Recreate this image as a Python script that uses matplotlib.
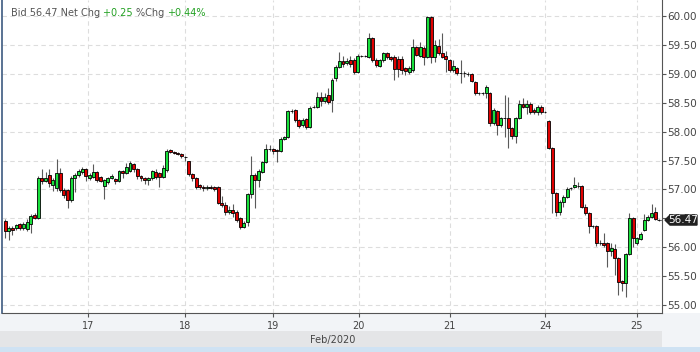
import matplotlib
matplotlib.use("Agg")
import matplotlib.pyplot as plt
from matplotlib.patches import Rectangle, Polygon
import numpy as np

# hourly candles, Feb 16 evening .. Feb 25
opens = [56.45, 56.28, 56.34, 56.33, 56.40, 56.33, 56.31, 56.40,
         56.56, 56.51, 57.20, 57.15, 57.25, 57.08, 57.02, 57.28, 56.99,
         56.99, 56.82, 57.20, 57.25, 57.30, 57.35, 57.20, 57.22, 57.30,
         57.21, 57.06, 57.13, 57.20, 57.18, 57.14, 57.32, 57.28, 57.32,
         57.44, 57.35, 57.23, 57.19, 57.16, 57.19, 57.30, 57.28, 57.21,
         57.34, 57.68, 57.65, 57.63, 57.61, 57.56, 57.49, 57.26, 57.20, 57.07,
         57.05, 57.02, 57.05, 57.04, 57.04, 56.77, 56.73, 56.61, 56.64,
         56.61, 56.50, 56.35, 56.43, 56.92, 57.25, 57.16, 57.30, 57.47, 57.70,
         57.70, 57.68, 57.66, 57.87, 57.91, 58.36, 58.37, 58.20, 58.11, 58.22,
         58.08, 58.43, 58.43, 58.60, 58.53, 58.63, 58.55, 58.93, 59.12, 59.22,
         59.19, 59.24, 59.24, 59.03, 59.31, 59.31, 59.29, 59.62, 59.24, 59.13,
         59.24, 59.36, 59.29, 59.29, 59.26, 59.26, 59.10, 59.03, 59.07, 59.46,
         59.31, 59.45, 59.29, 59.98, 59.29, 59.48, 59.36, 59.31, 59.24, 59.07,
         59.10, 59.01, 59.01, 59.00, 59.00, 58.86, 58.67, 58.67, 58.67, 58.67,
         58.15, 58.36, 58.11, 58.24, 58.24, 58.06, 57.92, 58.24, 58.48, 58.43,
         58.48, 58.37, 58.34, 58.43, 58.34, 58.18, 57.72, 56.94, 56.61, 56.78,
         56.87, 57.02, 57.04, 57.06, 57.06, 56.70, 56.59, 56.37, 56.37, 56.07,
         56.07, 56.07, 55.93, 55.97, 55.81, 55.42, 55.38, 55.88, 56.51, 56.07,
         56.14, 56.30, 56.47, 56.52, 56.61, 56.47]
closes = [56.28, 56.33, 56.29, 56.38, 56.33, 56.41, 56.43, 56.54,
          56.51, 57.20, 57.15, 57.20, 57.11, 57.16, 57.28, 56.99, 56.90,
          56.82, 57.20, 57.25, 57.32, 57.35, 57.23, 57.25, 57.30, 57.16,
          57.15, 57.16, 57.20, 57.24, 57.14, 57.32, 57.28, 57.39, 57.46,
          57.35, 57.23, 57.20, 57.16, 57.19, 57.31, 57.21, 57.21, 57.37,
          57.66, 57.65, 57.63, 57.61, 57.58, 57.56, 57.26, 57.20, 57.04, 57.04,
          57.02, 57.05, 57.02, 57.01, 56.77, 56.73, 56.61, 56.64, 56.59,
          56.47, 56.35, 56.42, 56.92, 57.25, 57.16, 57.32, 57.47, 57.70, 57.70,
          57.66, 57.66, 57.87, 57.91, 58.36, 58.36, 58.20, 58.10, 58.20, 58.08,
          58.41, 58.43, 58.60, 58.53, 58.60, 58.51, 58.89, 59.12, 59.22, 59.17,
          59.22, 59.17, 59.03, 59.31, 59.31, 59.31, 59.62, 59.24, 59.15, 59.24,
          59.36, 59.29, 59.26, 59.08, 59.08, 59.07, 59.05, 59.10, 59.46, 59.33,
          59.46, 59.29, 59.98, 59.29, 59.50, 59.36, 59.29, 59.26, 59.07, 59.13,
          59.01, 59.01, 59.01, 59.00, 58.88, 58.67, 58.67, 58.67, 58.77, 58.15,
          58.37, 58.11, 58.24, 58.24, 58.06, 57.92, 58.24, 58.48, 58.43, 58.48,
          58.34, 58.34, 58.43, 58.34, 58.34, 57.72, 56.94, 56.61, 56.78, 56.87,
          57.01, 57.02, 57.08, 57.06, 56.70, 56.59, 56.37, 56.37, 56.07, 56.07,
          56.04, 55.93, 55.99, 55.81, 55.40, 55.38, 55.88, 56.51, 56.16, 56.16,
          56.23, 56.47, 56.52, 56.59, 56.49, 56.47]
highs = [56.49, 56.36, 56.37, 56.40, 56.42, 56.44, 56.48, 56.58,
         56.60, 57.23, 57.35, 57.30, 57.35, 57.20, 57.53, 57.37, 57.02,
         57.01, 57.24, 57.28, 57.35, 57.38, 57.37, 57.28, 57.44, 57.32,
         57.23, 57.18, 57.22, 57.26, 57.20, 57.34, 57.34, 57.45, 57.49,
         57.46, 57.37, 57.25, 57.21, 57.22, 57.33, 57.36, 57.30, 57.42,
         57.70, 57.70, 57.67, 57.65, 57.63, 57.58, 57.50, 57.28, 57.22, 57.10,
         57.07, 57.07, 57.08, 57.06, 57.06, 56.89, 56.79, 56.72, 56.75,
         56.64, 56.53, 56.45, 56.94, 57.58, 57.28, 57.35, 57.49, 57.78, 57.76,
         57.72, 57.70, 57.90, 57.93, 58.38, 58.39, 58.39, 58.22, 58.23, 58.24,
         58.45, 58.46, 58.68, 58.68, 58.66, 58.75, 58.93, 59.15, 59.38, 59.30,
         59.28, 59.30, 59.27, 59.34, 59.33, 59.33, 59.71, 59.64, 59.27, 59.26,
         59.38, 59.38, 59.31, 59.32, 59.30, 59.30, 59.12, 59.14, 59.60, 59.48,
         59.55, 59.48, 60.00, 60.00, 59.58, 59.60, 59.71, 59.40, 59.26, 59.24,
         59.12, 59.24, 59.05, 59.03, 59.02, 58.88, 58.69, 58.69, 58.80, 58.69,
         58.40, 58.38, 58.26, 58.63, 58.60, 58.08, 58.26, 58.55, 58.58, 58.55,
         58.52, 58.40, 58.46, 58.46, 58.35, 58.20, 57.74, 56.96, 56.82, 56.90,
         57.04, 57.05, 57.21, 57.12, 57.08, 56.74, 56.61, 56.39, 56.39, 56.12,
         56.25, 56.09, 56.08, 56.06, 55.83, 55.44, 55.90, 56.59, 56.53, 56.18,
         56.26, 56.58, 56.55, 56.75, 56.70, 56.49]
lows = [56.16, 56.12, 56.22, 56.30, 56.29, 56.30, 56.28, 56.25,
        56.48, 56.49, 57.10, 57.12, 57.05, 56.98, 56.98, 56.95, 56.85,
        56.68, 56.78, 56.96, 57.22, 57.27, 57.15, 57.17, 57.20, 57.12,
        57.12, 56.83, 57.10, 57.18, 57.10, 57.12, 57.20, 57.26, 57.30,
        57.30, 57.18, 57.15, 57.10, 57.08, 57.17, 57.18, 57.05, 57.19,
        57.30, 57.63, 57.61, 57.59, 57.55, 57.50, 57.24, 57.15, 57.00, 57.00,
        56.98, 56.99, 57.00, 56.98, 56.74, 56.70, 56.55, 56.57, 56.52,
        56.43, 56.31, 56.33, 56.36, 56.85, 56.68, 57.05, 57.28, 57.45, 57.66,
        57.62, 57.47, 57.64, 57.85, 57.89, 58.33, 58.17, 58.07, 58.08, 58.05,
        58.06, 58.41, 58.40, 58.45, 58.49, 58.48, 58.34, 58.88, 59.10, 59.12,
        59.15, 59.12, 59.00, 59.01, 59.29, 59.29, 59.27, 59.20, 59.12, 59.11,
        59.20, 59.25, 59.22, 58.89, 58.95, 59.00, 58.98, 59.00, 59.04, 59.30,
        59.29, 59.15, 59.27, 59.19, 59.20, 59.33, 59.27, 59.03, 59.04, 59.04,
        58.98, 58.84, 58.95, 58.97, 58.85, 58.64, 58.64, 58.64, 58.58, 58.10,
        58.12, 57.94, 58.08, 57.90, 57.72, 57.88, 57.80, 58.22, 58.40, 58.30,
        58.31, 58.31, 58.29, 58.30, 58.33, 57.70, 56.60, 56.54, 56.55, 56.70,
        56.85, 56.99, 57.02, 57.03, 56.68, 56.55, 56.24, 56.34, 56.02, 56.03,
        56.00, 55.65, 55.85, 55.52, 55.17, 55.24, 55.14, 55.86, 56.00, 56.04,
        56.12, 56.28, 56.45, 56.50, 56.47, 56.45]

tick_idx = [22.6, 49, 73, 96.3, 121, 147, 172]
tick_labels = ["17", "18", "19", "20", "21", "24", "25"]
last_price = 56.47
header = [("Bid 56.47 Net Chg ", "#555555"), ("+0.25 ", "#22a022"),
          ("%Chg ", "#555555"), ("+0.44%", "#22a022")]

W, H = 700, 352
fig = plt.figure(figsize=(W / 100, H / 100), dpi=100)
fig.patch.set_facecolor("white")

# bottom bands
for (x0, y0, w, h, col) in [(0, 0, W, 39, "#f2f4f7"), (0, 5, 662, 16, "#e4e5e7"),
                            (0, 0, W, 5, "#cfe2f3")]:
    fig.patches.append(Rectangle((x0 / W, y0 / H), w / W, h / H, transform=fig.transFigure,
                                 facecolor=col, edgecolor="none", zorder=-10))

ax = fig.add_axes([2 / W, 39 / H, 660 / W, 313 / H])
ax.set_facecolor("white")

n = len(closes)
x = np.arange(n)
o = np.array(opens)
c = np.array(closes)
up = c >= o
body_lo = np.minimum(o, c)
body_h = np.maximum(np.abs(c - o), 0.004)

ax.vlines(x, lows, highs, color="#5a5a5a", linewidth=0.8, zorder=2)
ax.bar(x, body_h, bottom=body_lo, width=0.8,
       color=np.where(up, "#19e03c", "#e00000"),
       edgecolor="black", linewidth=0.6, zorder=3)

ax.set_xlim(-0.85, n - 1 + 0.85)
ax.set_ylim(54.862, 60.277)

yt = np.arange(55.0, 60.01, 0.5)
ax.set_yticks(yt)
ax.set_yticklabels([f"{v:.2f}" for v in yt])
ax.yaxis.tick_right()
ax.set_xticks(tick_idx)
ax.set_xticklabels(tick_labels)
ax.tick_params(axis="y", direction="out", length=3, width=0.8, colors="#555555",
               labelsize=7.5, pad=1, labelcolor="#444444")
ax.tick_params(axis="x", direction="out", length=3, width=0.8, colors="#555555",
               labelsize=7, pad=3, labelcolor="#444444")
ax.grid(True, color="#dddddd", linestyle=(0, (4, 3)), linewidth=0.8)
ax.set_axisbelow(True)

ax.spines["top"].set_visible(False)
ax.spines["right"].set_color("#555555")
ax.spines["bottom"].set_color("#555555")
ax.spines["left"].set_color("#3d5a80")
ax.spines["left"].set_linewidth(1.2)

# last price flag
yl = last_price
ax.plot([n - 1 + 0.2, n - 1 + 0.85], [yl, yl], color="#333333", linewidth=0.8,
        linestyle=(0, (1, 1)), zorder=4, clip_on=False)
flag_y = ax.transData.transform((0, yl))[1] / H
fx0, fx1 = 665 / W, 697 / W
fh = 5 / H
fig.patches.append(Polygon([(fx0, flag_y), (fx0 + 5 / W, flag_y + fh),
                            (fx1, flag_y + fh), (fx1, flag_y - fh),
                            (fx0 + 5 / W, flag_y - fh)],
                           closed=True, transform=fig.transFigure,
                           facecolor="#222222", edgecolor="#222222", zorder=5))
fig.text((fx0 + 5 / W + fx1) / 2, flag_y, f"{last_price:.2f}", color="white",
         fontsize=7.5, ha="center", va="center", zorder=6)

# header, pieces placed one after another
renderer = fig.canvas.get_renderer()
hx = 11 / W
for txt, col in header:
    t = fig.text(hx, 1 - 13 / H, txt, color=col, fontsize=7, va="center")
    hx = t.get_window_extent(renderer).x1 / W

fig.text(333 / W, 12.5 / H, "Feb/2020", color="#444444", fontsize=7, ha="center", va="center")

fig.savefig("out.png", dpi=100)
